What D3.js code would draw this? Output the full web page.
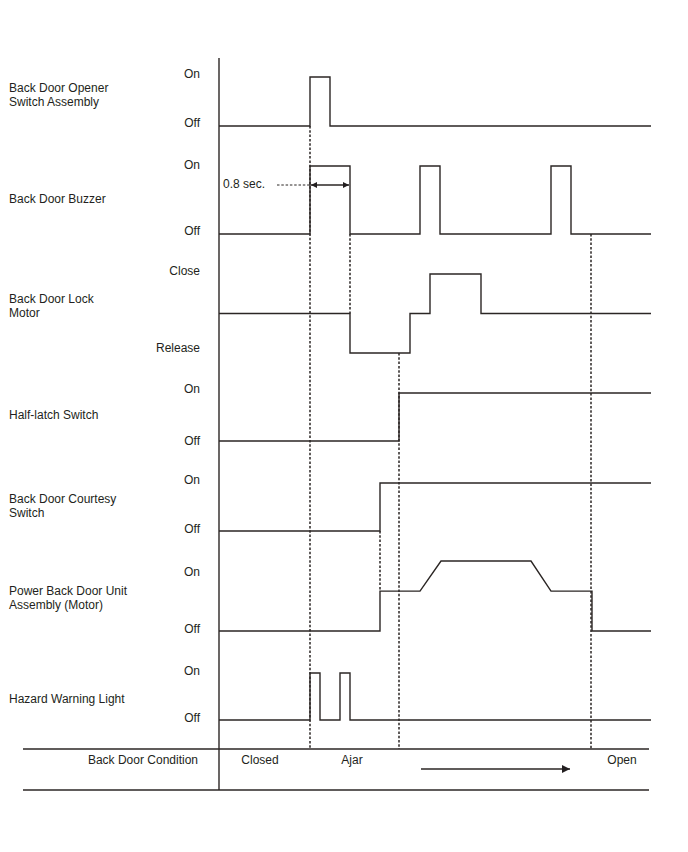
<!DOCTYPE html>
<meta charset="utf-8">
<head>
	<style>
		html, body {
			margin: 0;
			background-color: white;
		}
		text {
			font-family: "Liberation Sans", Arial, Helvetica, sans-serif;
			font-size: 12px;
			fill: #231f20;
		}
		.wave {
			fill: none;
			stroke: #2b2624;
			stroke-width: 1.4;
		}
		.marker {
			stroke: #2b2624;
			stroke-width: 1.5;
			stroke-dasharray: 2.5,1.8;
		}
		.rule {
			stroke: #2b2624;
			stroke-width: 1.4;
		}
	</style>
	<title>Back Door Timing Chart</title>
	<script src="https://d3js.org/d3.v7.min.js"></script>
</head>
<body>
	<script>

	// DATA (time in seconds)
	var signalNames = [
		["Back Door Opener", "Switch Assembly"],
		["Back Door Buzzer"],
		["Back Door Lock", "Motor"],
		["Half-latch Switch"],
		["Back Door Courtesy", "Switch"],
		["Power Back Door Unit", "Assembly (Motor)"],
		["Hazard Warning Light"]
	];

	var stateLabels = [
		["On", "Off"],
		["On", "Off"],
		["Close", "Release"],
		["On", "Off"],
		["On", "Off"],
		["On", "Off"],
		["On", "Off"]
	];

	var signalTimes = [
		[0, 1.82, 2.22, 8.64],
		[0, 1.82, 2.62, 4.02, 4.42, 6.64, 7.04, 8.64],
		[0, 2.62, 3.82, 4.22, 5.24, 8.64],
		[0, 3.6, 8.64],
		[0, 3.22, 8.64],
		[0, 3.22, 3.22, 4.02, 4.44, 6.24, 6.64, 7.46, 7.46, 8.64],
		[0, 1.82, 2.02, 2.42, 2.62, 8.64]
	];

	var signalLevels = [
		[0, 1, 0, 0],
		[0, 1, 0, 1, 0, 1, 0, 0],
		[0, -1, 0, 1, 0, 0],
		[0, 1, 1],
		[0, 1, 1],
		[0, 0, 0.57, 0.57, 1, 1, 0.57, 0.57, 0, 0],
		[0, 1, 0, 1, 0, 0]
	];

	// only the motor row has ramps, the rest are steps
	var signalRamped = [false, false, false, false, false, true, false];

	// dashed guide lines: time, start row/level, end row/level (null = condition rule)
	var markerTimes = [1.82, 2.62, 3.6, 3.22, 7.44];
	var markerFrom = [[0, 0], [1, 0], [2, -1], [4, 0], [1, 0]];
	var markerTo = [null, [2, 0], null, [5, 0.57], null];

	var pulseLabel = "0.8 sec.";
	var pulseStart = 1.82, pulseEnd = 2.62;

	var conditionTitle = "Back Door Condition";
	var conditions = ["Closed", "Ajar", "Open"];
	var conditionTimes = [0.82, 2.66, 8.06];
	var arrowTimes = [4.04, 7.02];

	// LAYOUT
	var rows = [
		{ lo: 126, hi: 77, nameY: 88, stateY: [74, 123] },
		{ lo: 234, hi: 166, nameY: 199, stateY: [165, 231] },
		{ lo: 353, hi: 274, nameY: 299, stateY: [271, 348], domain: [-1, 1] },
		{ lo: 441, hi: 393, nameY: 415, stateY: [389, 441] },
		{ lo: 531, hi: 483, nameY: 499, stateY: [480, 529] },
		{ lo: 631, hi: 561, nameY: 591, stateY: [572, 629] },
		{ lo: 720, hi: 673, nameY: 699, stateY: [671, 718] }
	];
	var axisX = 219, axisTop = 58, ruleTop = 749, ruleBottom = 790;
	var ruleLeft = 23, ruleRight = 649;

	var x = d3.scaleLinear().domain([0, 8.64]).range([219, 651]);

	rows.forEach(function(r) {
		r.y = d3.scaleLinear().domain(r.domain || [0, 1]).range([r.lo, r.hi]);
	});

	var svg = d3.select('body')
		.append('svg')
		.attr('width', 688)
		.attr('height', 852);

	var defs = svg.append('defs');
	defs.append('marker')
		.attr('id', 'head')
		.attr('viewBox', '0 0 10 10')
		.attr('refX', 10).attr('refY', 5)
		.attr('markerUnits', 'userSpaceOnUse')
		.attr('markerWidth', 13).attr('markerHeight', 8)
		.attr('orient', 'auto-start-reverse')
		.append('path')
		.attr('d', 'M0,0 L10,5 L0,10 Z')
		.attr('fill', '#231f20');
	defs.append('marker')
		.attr('id', 'smallhead')
		.attr('viewBox', '0 0 10 10')
		.attr('refX', 10).attr('refY', 5)
		.attr('markerUnits', 'userSpaceOnUse')
		.attr('markerWidth', 7).attr('markerHeight', 6)
		.attr('orient', 'auto-start-reverse')
		.append('path')
		.attr('d', 'M0,0 L10,5 L0,10 Z')
		.attr('fill', '#231f20');

	// dashed guides first so the waves sit on top
	markerTimes.forEach(function(t, i) {
		var f = markerFrom[i], e = markerTo[i];
		svg.append('line')
			.attr('class', 'marker')
			.attr('x1', x(t)).attr('x2', x(t))
			.attr('y1', rows[f[0]].y(f[1]))
			.attr('y2', e ? rows[e[0]].y(e[1]) : ruleTop);
	});

	// WAVES
	signalTimes.forEach(function(times, i) {
		var r = rows[i];
		var pts = times.map(function(t, j) { return [t, signalLevels[i][j]]; });
		var line = d3.line()
			.x(function(d) { return x(d[0]); })
			.y(function(d) { return r.y(d[1]); })
			.curve(signalRamped[i] ? d3.curveLinear : d3.curveStepAfter);
		svg.append('path')
			.attr('class', 'wave')
			.attr('d', line(pts));

		var name = svg.append('text')
			.attr('x', 9)
			.attr('y', r.nameY);
		signalNames[i].forEach(function(s, k) {
			name.append('tspan')
				.attr('x', 9)
				.attr('dy', k === 0 ? '0.35em' : '14px')
				.text(s);
		});

		stateLabels[i].forEach(function(s, k) {
			svg.append('text')
				.attr('x', 200)
				.attr('y', r.stateY[k])
				.attr('dy', '0.35em')
				.attr('text-anchor', 'end')
				.text(s);
		});
	});

	// 0.8 sec pulse width
	svg.append('text')
		.attr('x', 223)
		.attr('y', 184)
		.attr('dy', '0.35em')
		.text(pulseLabel);
	svg.append('line')
		.attr('class', 'marker')
		.attr('x1', 277).attr('x2', x(pulseStart))
		.attr('y1', 185).attr('y2', 185)
		.style('stroke-width', 1);
	svg.append('line')
		.attr('class', 'rule')
		.attr('x1', x(pulseStart) + 1).attr('x2', x(pulseEnd) - 1)
		.attr('y1', 185).attr('y2', 185)
		.attr('marker-start', 'url(#smallhead)')
		.attr('marker-end', 'url(#smallhead)');

	// AXIS + CONDITION ROW
	svg.append('line')
		.attr('class', 'rule')
		.attr('x1', axisX).attr('x2', axisX)
		.attr('y1', axisTop).attr('y2', ruleBottom);
	[ruleTop, ruleBottom].forEach(function(yy) {
		svg.append('line')
			.attr('class', 'rule')
			.attr('x1', ruleLeft).attr('x2', ruleRight)
			.attr('y1', yy).attr('y2', yy);
	});

	svg.append('text')
		.attr('x', 198)
		.attr('y', 760)
		.attr('dy', '0.35em')
		.attr('text-anchor', 'end')
		.text(conditionTitle);

	svg.selectAll('.cond')
		.data(conditions)
		.enter().append('text')
		.attr('class', 'cond')
		.attr('x', function(d, i) { return x(conditionTimes[i]); })
		.attr('y', 760)
		.attr('dy', '0.35em')
		.attr('text-anchor', 'middle')
		.text(function(d) { return d; });

	svg.append('line')
		.attr('class', 'rule')
		.attr('x1', x(arrowTimes[0])).attr('x2', x(arrowTimes[1]))
		.attr('y1', 769).attr('y2', 769)
		.attr('marker-end', 'url(#head)');

	</script>
</body>
